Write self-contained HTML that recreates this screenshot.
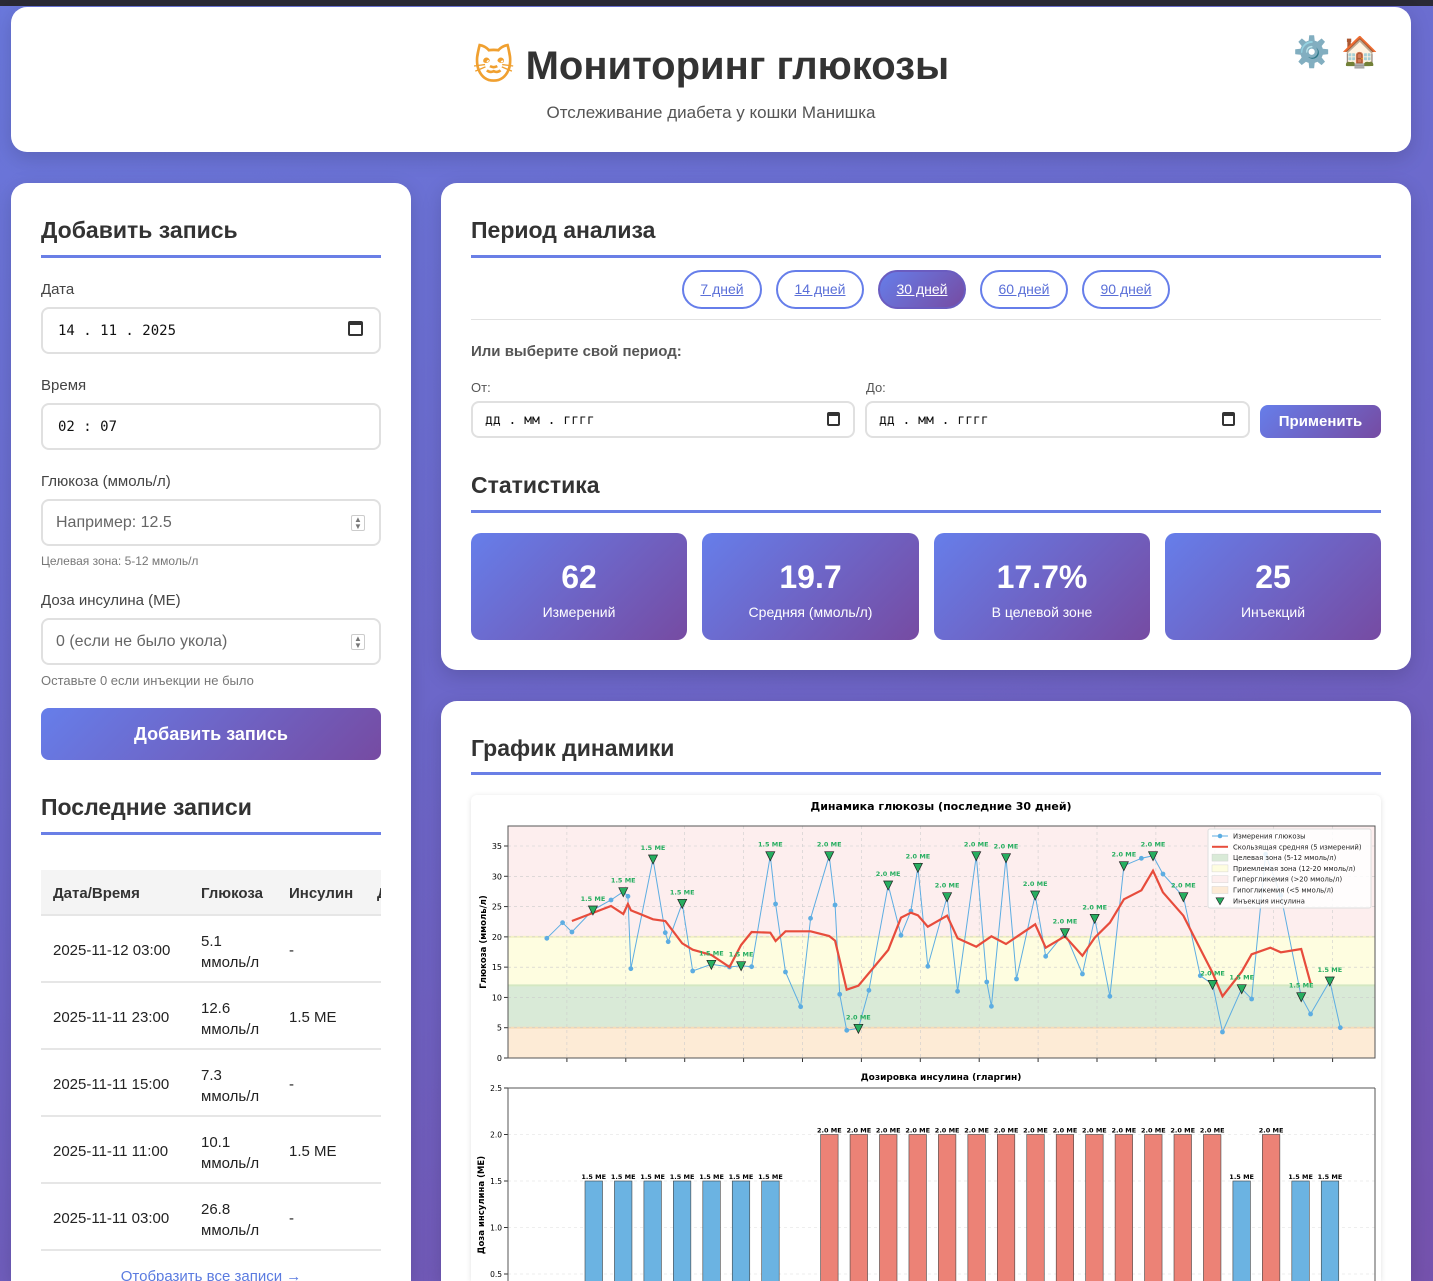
<!DOCTYPE html>
<html style="width:1433px;height:1281px;overflow:hidden"><head><meta charset="utf-8">
<style>
*{box-sizing:border-box;margin:0;padding:0}
body{width:1433px;height:1281px;overflow:hidden;position:relative;font-family:"Liberation Sans","DejaVu Sans",sans-serif;background:linear-gradient(160deg,#6a78dc 0%,#6c66c8 50%,#7552ad 100%);color:#333}
.a{position:absolute}
.card{position:absolute;background:#fff;border-radius:16px;box-shadow:0 6px 20px rgba(0,0,0,.15)}
h2{position:absolute;font-size:23px;font-weight:bold;color:#333}
.ul{position:absolute;height:3px;background:#6a7fe6}
.lbl{position:absolute;font-size:15px;color:#444}
.inp{position:absolute;border:2px solid #e0e0e0;border-radius:8px;background:#fff}
.mono{font-family:"DejaVu Sans Mono","Liberation Mono",monospace;font-size:14px;color:#111}
.pill{position:absolute;top:270px;height:39px;border:2px solid #667eea;border-radius:20px;font-size:14px;color:#5a6fd8;text-decoration:underline;text-align:center;line-height:35px;background:#fff}
.stat{position:absolute;top:533px;height:107px;border-radius:10px;background:linear-gradient(135deg,#667eea,#764ba2);color:#fff;text-align:center}
.stat b{display:block;font-size:32px;margin-top:26px}
.stat span{display:block;font-size:14px;margin-top:8px}
.row{position:absolute;left:41px;width:340px;height:67px;border-bottom:2px solid #e6e6e6;font-size:15px;color:#222}
.row div{position:absolute}
</style></head><body>
<div class="a" style="left:0;top:0;width:1433px;height:6px;background:#2a2a36"></div>

<div class="card" style="left:11px;top:7px;width:1400px;height:145px">
  <div class="a" style="left:0;width:1400px;top:36px;text-align:center;font-size:40px;font-weight:bold;color:#333"><span style="color:#f0a030">🐱</span> Мониторинг глюкозы</div>
  <div class="a" style="left:0;width:1400px;top:96px;text-align:center;font-size:17px;color:#555">Отслеживание диабета у кошки Манишка</div>
  <div class="a" style="left:1282px;top:28px;font-size:30px">⚙️</div>
  <div class="a" style="left:1330px;top:28px;font-size:30px">🏠</div>
</div>

<!-- left card -->
<div class="card" style="left:11px;top:183px;width:400px;height:1098px;border-bottom-left-radius:0;border-bottom-right-radius:0"></div>
<h2 style="left:41px;top:217px">Добавить запись</h2>
<div class="ul" style="left:41px;top:255px;width:340px"></div>
<div class="lbl" style="left:41px;top:281px">Дата</div>
<div class="inp" style="left:41px;top:307px;width:340px;height:47px"><span class="a mono" style="left:15px;top:14px">14 . 11 . 2025</span><span class="a" style="right:16px;top:12px;width:15px;height:15px;border:2px solid #333;border-radius:2px;border-top-width:4px"></span></div>
<div class="lbl" style="left:41px;top:377px">Время</div>
<div class="inp" style="left:41px;top:403px;width:340px;height:47px"><span class="a mono" style="left:15px;top:14px">02 : 07</span></div>
<div class="lbl" style="left:41px;top:473px">Глюкоза (ммоль/л)</div>
<div class="inp" style="left:41px;top:499px;width:340px;height:47px"><span class="a" style="left:13px;top:13px;font-size:16px;color:#666">Например: 12.5</span><span class="a" style="right:14px;top:14px;width:14px;height:16px;border:1px solid #ccc;border-radius:2px;font-size:8px;color:#777;text-align:center;line-height:7px">▲<br>▼</span></div>
<div class="a" style="left:41px;top:554px;font-size:12px;color:#777">Целевая зона: 5-12 ммоль/л</div>
<div class="lbl" style="left:41px;top:592px">Доза инсулина (МЕ)</div>
<div class="inp" style="left:41px;top:618px;width:340px;height:47px"><span class="a" style="left:13px;top:13px;font-size:16px;color:#666">0 (если не было укола)</span><span class="a" style="right:14px;top:14px;width:14px;height:16px;border:1px solid #ccc;border-radius:2px;font-size:8px;color:#777;text-align:center;line-height:7px">▲<br>▼</span></div>
<div class="a" style="left:41px;top:673px;font-size:13px;color:#777">Оставьте 0 если инъекции не было</div>
<div class="a" style="left:41px;top:708px;width:340px;height:52px;border-radius:8px;background:linear-gradient(135deg,#667eea,#764ba2);color:#fff;font-weight:bold;font-size:18px;text-align:center;line-height:52px">Добавить запись</div>
<h2 style="left:41px;top:794px">Последние записи</h2>
<div class="ul" style="left:41px;top:832px;width:340px"></div>
<div class="a" style="left:41px;top:870px;width:340px;height:46px;background:#f4f4f4;border-bottom:2px solid #e6e6e6;font-size:15px;font-weight:bold;color:#333;overflow:hidden">
  <span class="a" style="left:12px;top:15px">Дата/Время</span><span class="a" style="left:160px;top:15px">Глюкоза</span><span class="a" style="left:248px;top:15px">Инсулин</span><span class="a" style="left:336px;top:15px">Д</span>
</div>
<div class="row" style="top:916px"><div style="left:12px;top:26px">2025-11-12 03:00</div><div style="left:160px;top:15px;line-height:21px">5.1<br>ммоль/л</div><div style="left:248px;top:26px">-</div></div>
<div class="row" style="top:983px"><div style="left:12px;top:26px">2025-11-11 23:00</div><div style="left:160px;top:15px;line-height:21px">12.6<br>ммоль/л</div><div style="left:248px;top:26px">1.5 МЕ</div></div>
<div class="row" style="top:1050px"><div style="left:12px;top:26px">2025-11-11 15:00</div><div style="left:160px;top:15px;line-height:21px">7.3<br>ммоль/л</div><div style="left:248px;top:26px">-</div></div>
<div class="row" style="top:1117px"><div style="left:12px;top:26px">2025-11-11 11:00</div><div style="left:160px;top:15px;line-height:21px">10.1<br>ммоль/л</div><div style="left:248px;top:26px">1.5 МЕ</div></div>
<div class="row" style="top:1184px"><div style="left:12px;top:26px">2025-11-11 03:00</div><div style="left:160px;top:15px;line-height:21px">26.8<br>ммоль/л</div><div style="left:248px;top:26px">-</div></div>
<div class="a" style="left:41px;width:340px;top:1268px;text-align:center;font-size:15px;color:#5b7be0">Отобразить все записи →</div>

<!-- right card 1 -->
<div class="card" style="left:441px;top:183px;width:970px;height:487px"></div>
<h2 style="left:471px;top:217px">Период анализа</h2>
<div class="ul" style="left:471px;top:255px;width:910px"></div>
<div class="pill" style="left:682px;width:80px">7 дней</div>
<div class="pill" style="left:776px;width:88px">14 дней</div>
<div class="pill" style="left:878px;width:88px;background:linear-gradient(135deg,#667eea,#764ba2);color:#fff;border-color:#6a5cc0">30 дней</div>
<div class="pill" style="left:980px;width:88px">60 дней</div>
<div class="pill" style="left:1082px;width:88px">90 дней</div>
<div class="a" style="left:471px;top:319px;width:910px;height:1px;background:#e2e2e2"></div>
<div class="a" style="left:471px;top:343px;font-size:15px;font-weight:bold;color:#555">Или выберите свой период:</div>
<div class="a" style="left:471px;top:380px;font-size:13px;color:#555">От:</div>
<div class="a" style="left:866px;top:380px;font-size:13px;color:#555">До:</div>
<div class="inp" style="left:471px;top:401px;width:384px;height:37px"><span class="a mono" style="left:12px;top:10px;font-size:13px">дд . мм . гггг</span><span class="a" style="right:13px;top:9px;width:13px;height:14px;border:2px solid #333;border-top-width:4px;border-radius:2px"></span></div>
<div class="inp" style="left:865px;top:401px;width:385px;height:37px"><span class="a mono" style="left:12px;top:10px;font-size:13px">дд . мм . гггг</span><span class="a" style="right:13px;top:9px;width:13px;height:14px;border:2px solid #333;border-top-width:4px;border-radius:2px"></span></div>
<div class="a" style="left:1260px;top:405px;width:121px;height:33px;border-radius:8px;background:linear-gradient(135deg,#667eea,#764ba2);color:#fff;font-weight:bold;font-size:15px;text-align:center;line-height:33px">Применить</div>
<h2 style="left:471px;top:472px">Статистика</h2>
<div class="ul" style="left:471px;top:510px;width:910px"></div>
<div class="stat" style="left:471px;width:216px"><b>62</b><span>Измерений</span></div>
<div class="stat" style="left:702px;width:217px"><b>19.7</b><span>Средняя (ммоль/л)</span></div>
<div class="stat" style="left:934px;width:216px"><b>17.7%</b><span>В целевой зоне</span></div>
<div class="stat" style="left:1165px;width:216px"><b>25</b><span>Инъекций</span></div>

<!-- right card 2 -->
<div class="card" style="left:441px;top:701px;width:970px;height:580px;border-bottom-left-radius:0;border-bottom-right-radius:0"></div>
<h2 style="left:471px;top:735px">График динамики</h2>
<div class="ul" style="left:471px;top:772px;width:910px"></div>
<div class="a" style="left:471px;top:795px;width:910px;height:486px;background:#fff;box-shadow:0 1px 6px rgba(0,0,0,.12);border-radius:6px 6px 0 0"></div>
<svg id="ch" class="a" style="left:0;top:0" width="1433" height="1281" viewBox="0 0 1433 1281" font-family="DejaVu Sans,Liberation Sans,sans-serif"></svg>

<script>
var s='';
var X0=508,X1=1375,Y0=1058,k=6.057;
function vy(v){return Y0-v*k}
s+='<text x="941" y="810" font-size="11" font-weight="bold" text-anchor="middle">Динамика глюкозы (последние 30 дней)</text>';
s+='<rect x="508" y="826" width="867" height="'+(vy(20)-826)+'" fill="#fdeeee"/>';
s+='<rect x="508" y="'+vy(20)+'" width="867" height="'+(8*k)+'" fill="#fefde0"/>';
s+='<rect x="508" y="'+vy(12)+'" width="867" height="'+(7*k)+'" fill="#d9ead7"/>';
s+='<rect x="508" y="'+vy(5)+'" width="867" height="'+(5*k)+'" fill="#fdebd6"/>';
s+='<line x1="508" x2="1375" y1="'+vy(20)+'" y2="'+vy(20)+'" stroke="#f3f1c4" stroke-width="2"/>';
s+='<line x1="508" x2="1375" y1="'+vy(12)+'" y2="'+vy(12)+'" stroke="#d4e8c2" stroke-width="2"/>';
s+='<line x1="508" x2="1375" y1="'+vy(5)+'" y2="'+vy(5)+'" stroke="#f6dcb8" stroke-width="2"/>';
for(var v=0;v<=35;v+=5){var y=vy(v);s+='<line x1="508" x2="1375" y1="'+y+'" y2="'+y+'" stroke="#ccc" stroke-dasharray="3,3" stroke-width=".6"/><line x1="504" x2="508" y1="'+y+'" y2="'+y+'" stroke="#333"/><text x="502" y="'+(y+3)+'" font-size="8" text-anchor="end">'+v+'</text>';}
for(var i=0;i<14;i++){var x=508+(i+1)*58.9;s+='<line x1="'+x+'" x2="'+x+'" y1="826" y2="1058" stroke="#ccc" stroke-dasharray="3,3" stroke-width=".6"/><line x1="'+x+'" x2="'+x+'" y1="1058" y2="1062" stroke="#333"/>';}
s+='<rect x="508" y="826" width="867" height="232" fill="none" stroke="#555"/>';
s+='<text transform="translate(486,942) rotate(-90)" font-size="8.5" font-weight="bold" text-anchor="middle">Глюкоза (ммоль/л)</text>';
function P(a){return [471+a[0]/1.714,795+a[1]/3]}
var g=[[130,430],[157,383],[173,411],[209,345],[240,315],[261,290],[269,304],[274,521],[312,192],[333,413],[338,440],[362,325],[380,528],[412,508],[443,516],[463,512],[481,515],[513,182],[522,327],[539,531],[565,635],[582,370],[614,182],[624,330],[632,598],[644,706],[664,700],[682,586],[715,270],[737,421],[754,348],[766,217],[783,514],[816,305],[834,589],[866,182],[884,561],[892,634],[917,188],[935,552],[967,300],[985,484],[1018,413],[1048,537],[1069,370],[1095,604],[1119,212],[1149,190],[1169,182],[1186,237],[1221,305],[1250,542],[1271,568],[1288,711],[1321,581],[1338,612],[1362,178],[1388,300],[1423,605],[1439,657],[1472,558],[1490,698]];
var m=[[173,378],[240,333],[261,357],[269,327],[274,346],[312,373],[333,378],[362,445],[380,464],[412,480],[443,516],[463,450],[481,411],[513,413],[522,438],[539,409],[582,409],[614,423],[624,437],[644,584],[664,572],[715,465],[737,368],[754,353],[766,361],[783,395],[816,362],[834,430],[866,455],[892,424],[917,447],[967,388],[985,458],[1018,424],[1048,482],[1069,428],[1095,383],[1119,313],[1149,286],[1169,227],[1186,292],[1221,362],[1250,462],[1271,533],[1288,604],[1321,530],[1338,478],[1370,458],[1388,472],[1423,462],[1439,565]];
var pts=g.map(function(a){var p=P(a);return p[0].toFixed(1)+','+p[1].toFixed(1)}).join(' ');
s+='<polyline points="'+pts+'" fill="none" stroke="#5dade2" stroke-width="1"/>';
g.forEach(function(a){var p=P(a);s+='<circle cx="'+p[0]+'" cy="'+p[1]+'" r="2.4" fill="#5dade2"/>';});
s+='<polyline points="'+m.map(function(a){var p=P(a);return p[0].toFixed(1)+','+p[1].toFixed(1)}).join(' ')+'" fill="none" stroke="#e74c3c" stroke-width="2.2"/>';
var mk=[[3,'1.5'],[5,'1.5'],[8,'1.5'],[11,'1.5'],[13,'1.5'],[15,'1.5'],[17,'1.5'],[22,'2.0'],[26,'2.0'],[28,'2.0'],[31,'2.0'],[33,'2.0'],[35,'2.0'],[38,'2.0'],[40,'2.0'],[42,'2.0'],[44,'2.0'],[46,'2.0'],[48,'2.0'],[50,'2.0'],[52,'2.0'],[54,'1.5'],[58,'1.5'],[60,'1.5']];
mk.forEach(function(a){var p=P(g[a[0]]);var x=p[0],y=p[1];s+='<polygon points="'+(x-4.5)+','+(y-4)+' '+(x+4.5)+','+(y-4)+' '+x+','+(y+5)+'" fill="#27ae60" stroke="#222" stroke-width=".7"/><text x="'+x+'" y="'+(y-9)+'" font-size="6.5" font-weight="bold" fill="#27ae60" text-anchor="middle">'+a[1]+' МЕ</text>';});
s+='<rect x="1208" y="829" width="163" height="79" fill="#fff" fill-opacity=".85" stroke="#ddd" rx="2"/>';
var L=[['Измерения глюкозы','l'],['Скользящая средняя (5 измерений)','r'],['Целевая зона (5-12 ммоль/л)','#d9ead7'],['Приемлемая зона (12-20 ммоль/л)','#fefde0'],['Гипергликемия (>20 ммоль/л)','#fdeeee'],['Гипогликемия (<5 ммоль/л)','#fdebd6'],['Инъекция инсулина','t']];
L.forEach(function(e,i){var y=836+i*10.8;if(e[1]=='l'){s+='<line x1="1212" x2="1228" y1="'+y+'" y2="'+y+'" stroke="#5dade2"/><circle cx="1220" cy="'+y+'" r="2.3" fill="#5dade2"/>';}else if(e[1]=='r'){s+='<line x1="1212" x2="1228" y1="'+y+'" y2="'+y+'" stroke="#e74c3c" stroke-width="2"/>';}else if(e[1]=='t'){s+='<polygon points="1216,'+(y-3)+' 1224,'+(y-3)+' 1220,'+(y+4)+'" fill="#27ae60" stroke="#222" stroke-width=".6"/>';}else{s+='<rect x="1212" y="'+(y-3.5)+'" width="16" height="7" fill="'+e[1]+'" stroke="#ccc" stroke-width=".4"/>';}s+='<text x="1233" y="'+(y+2.5)+'" font-size="6.8" fill="#222">'+e[0]+'</text>';});
s+='<text x="941" y="1080" font-size="9" font-weight="bold" text-anchor="middle">Дозировка инсулина (гларгин)</text>';
function by(v){return 1088+(2.5-v)*93}
for(var v=0.5;v<=2.5;v+=0.5){var y=by(v);s+='<line x1="508" x2="1375" y1="'+y+'" y2="'+y+'" stroke="#ddd" stroke-dasharray="3,3" stroke-width=".6"/><line x1="504" x2="508" y1="'+y+'" y2="'+y+'" stroke="#333"/><text x="502" y="'+(y+3)+'" font-size="7.5" text-anchor="end">'+v.toFixed(1)+'</text>';}
s+='<line x1="508" x2="1375" y1="1088" y2="1088" stroke="#555"/><line x1="508" x2="508" y1="1088" y2="1281" stroke="#555"/><line x1="1375" x2="1375" y1="1088" y2="1281" stroke="#555"/>';
s+='<text transform="translate(484,1205) rotate(-90)" font-size="8.5" font-weight="bold" text-anchor="middle">Доза инсулина (МЕ)</text>';
var bars=[];for(var i=0;i<7;i++)bars.push([i,1.5]);for(var i=8;i<22;i++)bars.push([i,2]);bars.push([22,1.5],[23,2],[24,1.5],[25,1.5]);
bars.forEach(function(b){var x=585+b[0]*29.45,y=by(b[1]);var c=b[1]==2?'#ec8276':'#6bb3e2';s+='<rect x="'+x+'" y="'+y+'" width="17.5" height="'+(1290-y)+'" fill="'+c+'" stroke="#444" stroke-width=".6"/><text x="'+(x+8.75)+'" y="'+(y-2)+'" font-size="6.5" font-weight="bold" text-anchor="middle">'+b[1].toFixed(1)+' МЕ</text>';});
document.getElementById('ch').innerHTML=s;
</script>
</body></html>
